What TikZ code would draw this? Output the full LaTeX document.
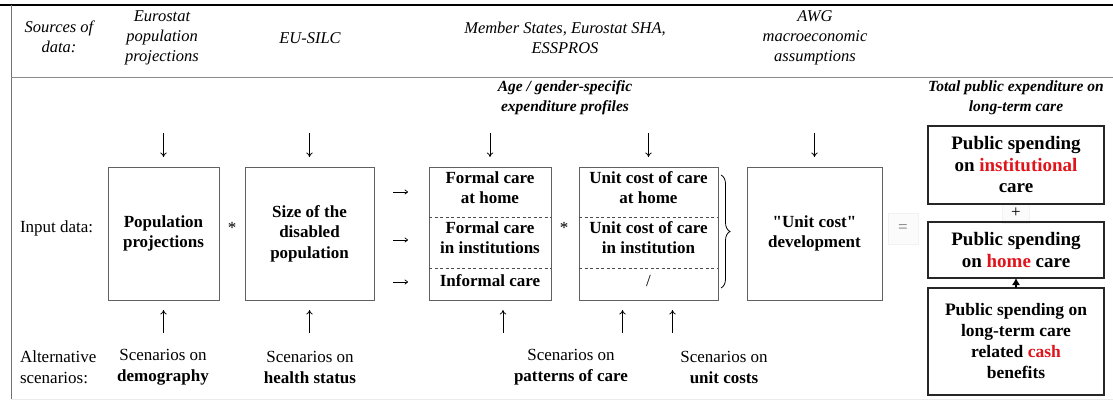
\documentclass[tikz,border=0pt]{standalone}
\usepackage{fontspec}
\setmainfont{Liberation Serif}
\usetikzlibrary{arrows.meta,decorations.pathreplacing,calc}
\definecolor{hl}{HTML}{E0141B}
\newcommand{\straightquote}{{\addfontfeatures{Ligatures=TeXOff}"}}

\begin{document}
\begin{tikzpicture}[x=1pt,y=-1pt,
  every node/.style={inner sep=0pt, outer sep=0pt},
  txt/.style={align=center, font=\fontsize{17}{21}\selectfont},
  src/.style={align=center, font=\fontsize{16.5}{20}\selectfont\itshape},
  head/.style={align=center, font=\fontsize{15.5}{20}\selectfont\bfseries\itshape},
  cell/.style={align=center, font=\fontsize{17}{20}\selectfont\bfseries},
  inbox/.style={draw=black!62, line width=0.9pt, minimum height=133pt, align=center,
                font=\fontsize{17}{20.5}\selectfont\bfseries},
  outbox/.style={draw=black!85, line width=1.3pt, minimum width=176pt, align=center,
                 font=\fontsize{19}{21.5}\selectfont\bfseries},
  glyph/.style={-{To[length=4.5pt,width=6.5pt]}, line width=0.8pt},
  sep/.style={dashed, dash pattern=on 3pt off 2.5pt, draw=black!70, line width=0.5pt},
  faint/.style={draw=black!5, fill=black!1.5, line width=0.6pt}
]
\useasboundingbox (0,0) rectangle (1113,401);

% frame
\draw[line width=2.2pt] (0,5) -- (1113,5);
\draw[draw=black!55, line width=1pt] (11,5) -- (11,399);
\draw[draw=black!45, line width=1pt] (11,78) -- (1113,78);
\draw[draw=black!8, line width=1pt] (11,399) -- (1113,399);

% sources of data
\node[src] (srclbl) at (59,37) {Sources of\\data:};
\node[src] (srcpop) at (162,38) {Eurostat\\population\\projections};
\node[src] (srcsilc) at (310,38) {EU-SILC};
\node[src] (srcms) at (565,38) {Member States, Eurostat SHA,\\ESSPROS};
\node[src] (srcawg) at (815,38) {AWG\\macroeconomic\\assumptions};

% headings
\node[head] (hprof) at (565,98) {Age / gender-specific\\expenditure profiles};
\node[head] (htot) at (1016,98) {Total public expenditure on\\long-term care};

% input boxes
\node[txt, anchor=west] (inlbl) at (20,228) {Input data:};
\node[inbox, minimum width=111pt] (pop) at (163.5,233.5) {Population\\projections};
\node[inbox, minimum width=129pt] (dis) at (309.5,233.5) {Size of the\\disabled\\population};
\node[inbox, minimum width=122pt] (formal) at (490,233.5) {};
\node[inbox, minimum width=139pt] (unit) at (648.5,233.5) {};
\node[inbox, minimum width=135pt] (dev) at (814.5,233.5) {\straightquote Unit cost\straightquote\\development};

% rows inside the care boxes
\foreach \b in {formal,unit}{
  \draw[sep] ($(\b.north west)+(0,50)$) -- ($(\b.north east)+(0,50)$);
  \draw[sep] ($(\b.north west)+(0,101)$) -- ($(\b.north east)+(0,101)$);
}
\node[cell] (fhome) at (490,188) {Formal care\\at home};
\node[cell] (finst) at (490,238) {Formal care\\in institutions};
\node[cell] (finf) at (490,281) {Informal care};
\node[cell] (uhome) at (648.5,188) {Unit cost of care\\at home};
\node[cell] (uinst) at (648.5,238) {Unit cost of care\\in institution};
\node[cell, font=\fontsize{17}{20}\selectfont] (uinf) at (648.5,281) {/};

% operators
\node[txt] (mul1) at (232,228) {*};
\node[txt] (mul2) at (564,228) {*};
\node[faint, minimum width=30pt, minimum height=31pt] (eqbox) at (903,228.5) {};
\node[txt, text=black!55] (eq) at (903,229) {=};
\node[faint, minimum width=27pt, minimum height=20pt] (plusbox) at (1016,213) {};
\node[txt] (plus) at (1016,213) {+};

% arrows into the care box
\foreach \y in {192,240,282}{
  \draw[line width=0.7pt, -{To[length=3.5pt,width=5pt]}] (393,\y) -- (408,\y);
}

% brace over the unit cost rows
\draw[decorate, decoration={brace, amplitude=9pt}, line width=0.8pt]
  ($(unit.north east)+(3,8)$) -- ($(unit.south east)+(3,-12)$);

% data inflows from above
\foreach \b in {pop,dis,formal,unit,dev}{
  \draw[glyph] ($(\b.north)+(0,-34)$) -- ($(\b.north)+(0,-10)$);
}

% scenario inflows from below
\coordinate (sp) at ($(pop.south)+(0,33)$);
\coordinate (sd) at ($(dis.south)+(0,33)$);
\coordinate (sf) at ($(formal.south)+(13,33)$);
\coordinate (su1) at ($(unit.south)+(-26,33)$);
\coordinate (su2) at ($(unit.south)+(24,33)$);
\foreach \c in {sp,sd,sf,su1,su2}{
  \draw[glyph] (\c) -- ($(\c)+(0,-23)$);
}

% alternative scenarios
\node[txt, anchor=west, align=left] (altlbl) at (20,367.5) {Alternative\\scenarios:};
\node[txt] (scdem) at (163,367.5) {Scenarios on\\\textbf{demography}};
\node[txt] (schea) at (310,367.5) {Scenarios on\\\textbf{health status}};
\node[txt] (scpat) at (571,367.5) {Scenarios on\\\textbf{patterns of care}};
\node[txt] (scuni) at (724,367.5) {Scenarios on\\\textbf{unit costs}};

% total public expenditure
\node[outbox, minimum height=78pt] (inst) at (1016,165) {Public spending\\on \textcolor{hl}{institutional}\\care};
\node[outbox, minimum height=56pt] (home) at (1016,250) {Public spending\\on \textcolor{hl}{home} care};
\node[outbox, minimum height=107pt, font=\fontsize{17.5}{21}\selectfont\bfseries] (cash) at (1016,341.5)
  {Public spending on\\long-term care\\related \textcolor{hl}{cash}\\benefits};
\draw[-{Latex[length=7pt,width=8pt]}, line width=1.1pt] (cash.north) -- (home.south);
\end{tikzpicture}
\end{document}
